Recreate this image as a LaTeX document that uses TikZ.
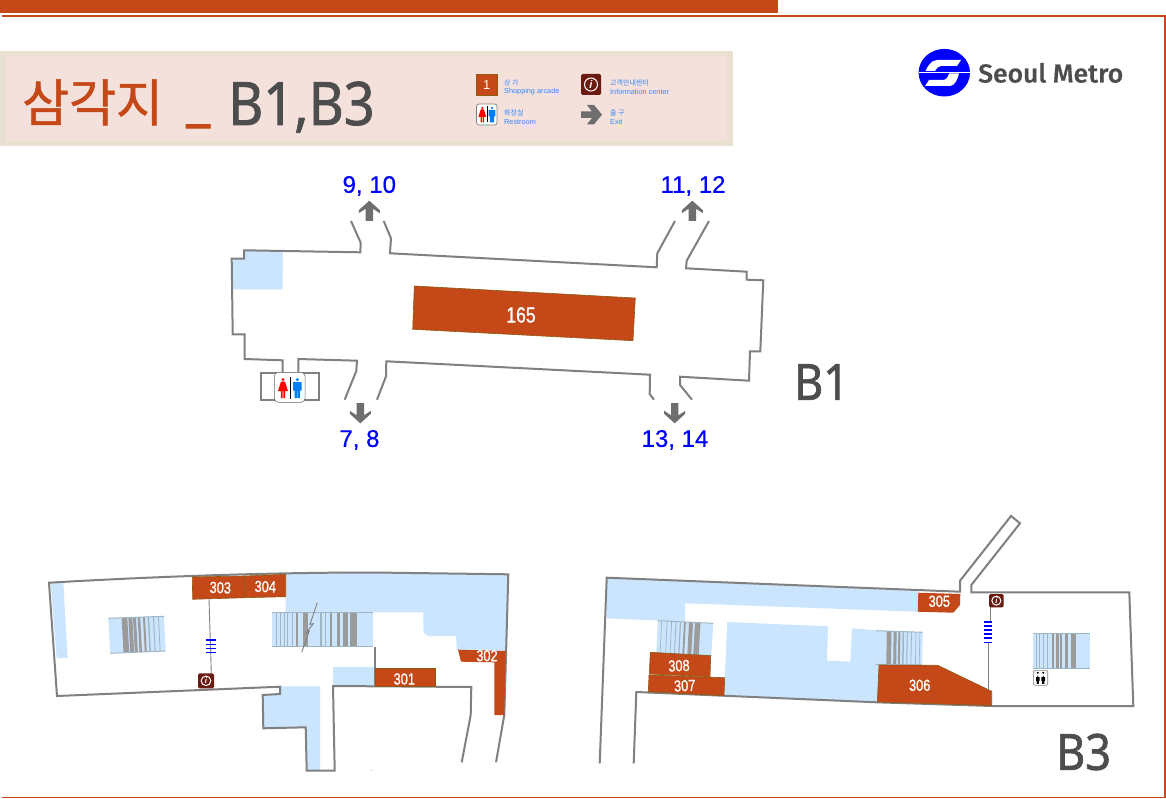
\documentclass[tikz,border=0pt]{standalone}
\usepackage{fontspec}
\usetikzlibrary{calc}
\setmainfont{Liberation Sans}
\newfontfamily\cjk{Noto Sans CJK KR}
\newfontfamily\cjkbig[FakeBold=1]{Noto Sans CJK KR}
\newfontfamily\din[FakeStretch=0.9,FakeBold=1.3]{Noto Sans}
\newfontfamily\cond[FakeStretch=0.8,FakeBold=0.8]{Liberation Sans}
\newfontfamily\exitfont[FakeBold=0.6]{Liberation Sans}
\newfontfamily\logofont[FakeStretch=1.02,FakeBold=0.5]{Fira Sans Medium}
\definecolor{shop}{RGB}{197,72,24}
\definecolor{shopedge}{RGB}{140,90,20}
\definecolor{wall}{RGB}{128,128,128}
\definecolor{pale}{RGB}{204,229,255}
\definecolor{stairline}{RGB}{160,182,195}
\definecolor{stairdark}{RGB}{155,155,155}
\definecolor{infofill}{RGB}{107,26,16}
\definecolor{arrowgrey}{RGB}{110,110,110}
\definecolor{inkgrey}{RGB}{77,77,77}
\definecolor{legendblue}{RGB}{51,136,255}
\definecolor{exitblue}{RGB}{0,0,255}
\definecolor{panelout}{RGB}{232,224,208}
\definecolor{panelin}{RGB}{245,225,219}
\definecolor{manblue}{RGB}{0,125,240}
\tikzset{
  wallline/.style={draw=wall,line width=2pt,line join=miter},
  shopbox/.style={fill=shop,draw=shopedge,line width=.6pt},
  paleb/.style={fill=pale},
  shoplab/.style={text=white,font=\cond\fontsize{16}{16}\selectfont,inner sep=0pt},
  exitlab/.style={text=exitblue,font=\exitfont\fontsize{24}{24}\selectfont,inner sep=0pt},
  bigfloor/.style={text=inkgrey,font=\din\fontsize{50}{50}\selectfont,inner sep=0pt},
  legkr/.style={text=legendblue,font=\cjk\fontsize{7}{7}\selectfont,inner sep=0pt,anchor=west},
  legen/.style={text=legendblue,font=\fontsize{7.3}{7.3}\selectfont,inner sep=0pt,anchor=west},
  feeder/.style={draw=wall,line width=.9pt},
  esc/.style={draw=blue,line width=1.5pt},
}
\newcommand\exitarrow[3]{%
  \fill[arrowgrey,shift={(#1,#2)},yscale=#3] (0,0)--(10.5,9.5)--(10.5,12.5)--(3.7,8)--(3.7,20.3)--(-3.7,20.3)--(-3.7,8)--(-10.5,12.5)--(-10.5,9.5)--cycle;}
\newcommand\womanfig[4]{%
  \begin{scope}[shift={(#1,#2)},scale=#4]
  \fill[#3] (0,1.6) circle[radius=1.6];
  \fill[#3] (-2,3.5)--(2,3.5)--(5,13)--(2.2,13)--(2.2,20)--(.4,20)--(.4,13)--(-.4,13)--(-.4,20)--(-2.2,20)--(-2.2,13)--(-5,13)--cycle;
  \end{scope}}
\newcommand\manfig[4]{%
  \begin{scope}[shift={(#1,#2)},scale=#4]
  \fill[#3] (0,1.6) circle[radius=1.6];
  \fill[#3] (-4.3,4)--(4.3,4)--(4.3,12.5)--(2.8,12.5)--(2.8,20)--(.3,20)--(.3,13)--(-.3,13)--(-.3,20)--(-2.8,20)--(-2.8,12.5)--(-4.3,12.5)--cycle;
  \end{scope}}
% name, x1,y1,x2,y2, circle radius, font size
\newcommand\infoicon[7]{%
  \fill[infofill,rounded corners=1.5pt] (#2,#3) rectangle (#4,#5);
  \draw[white,line width=1pt] ({(#2+#4)/2},{(#3+#5)/2}) circle[radius=#6];
  \node[text=white,inner sep=0pt,font=\bfseries\itshape\fontsize{#7}{#7}\selectfont] (#1) at ({(#2+#4)/2},{(#3+#5)/2}) {i};}
% A,B,C,D corners (TL,TR,BR,BL), list of f/w
\newcommand\stairs[5]{%
  \fill[pale] #1--#2--#3--#4--cycle;
  \coordinate (sA) at #1; \coordinate (sB) at #2; \coordinate (sC) at #3; \coordinate (sD) at #4;
  \foreach \f/\w in {#5} {
    \pgfmathsetmacro{\cc}{\w>1.6?1:0}
    \ifdim\cc pt>0.5pt
      \draw[stairdark,line width=\w pt] ($(sA)!\f!(sB)$)--($(sD)!\f!(sC)$);
    \else
      \draw[stairline,line width=\w pt] ($(sA)!\f!(sB)$)--($(sD)!\f!(sC)$);
    \fi
  }
  \draw[stairline,line width=1pt] (sA)--(sB) (sD)--(sC);
}
\begin{document}
\begin{tikzpicture}[x=1pt,y=-1pt]
\useasboundingbox (0,0) rectangle (1166,799);
\fill[white] (0,0) rectangle (1166,799);
% frame
\fill[shop] (0,0) rectangle (778,13);
\draw[shop,line width=1.8pt] (2,15.8)--(1165,15.8)--(1165,797.5)--(2,797.5);
% title panel
\fill[panelout] (0,51) rectangle (733,146);
\fill[panelin] (6,56.5) rectangle (727,141);
\node[anchor=base west,inner sep=0pt,text=shop,font=\cjkbig\fontsize{51}{51}\selectfont] (ttl) at (22,121.5) {삼각지};
\node[anchor=base west,inner sep=0pt,text=shop,font=\din\fontsize{60}{60}\selectfont] (und) at (186,119) {\_};
\node[anchor=base west,inner sep=0pt,text=inkgrey,font=\din\fontsize{60}{60}\selectfont] (ttb) at (228,125) {B1,B3};
% legend
\fill[shop,draw=shopedge,line width=.8pt] (476.5,74.5) rectangle (497,95);
\node[text=white,inner sep=0pt,font=\fontsize{13}{13}\selectfont] (lg1) at (486.7,84.7) {1};
\node[legkr] (lk1) at (504,83) {상 가};
\node[legen] (le1) at (504,92) {Shopping arcade};
\infoicon{lgi}{581}{74}{601}{95}{6.5}{11}
\node[legkr] (lk2) at (610,83) {고객안내센터};
\node[legen] (le2) at (610,92) {Information center};
\draw[wall,fill=white,rounded corners=2.5pt,line width=.7pt] (476.5,104)rectangle(497,125);
\womanfig{482.3}{106.7}{red}{.78}
\manfig{492}{106.7}{manblue}{.78}
\draw[black,line width=.9pt] (487,106.5)--(487,122.5);
\node[legkr] (lk3) at (504,113) {화장실};
\node[legen] (le3) at (504,122) {Restroom};
\fill[arrowgrey] (581,111.5)--(592,111.5)--(587,105)--(594,105)--(602,114.7)--(594,124.3)--(587,124.3)--(592,118)--(581,118)--cycle;
\node[legkr] (lk4) at (610,113) {출 구};
\node[legen] (le4) at (610,122) {Exit};
% logo
\fill[blue] (944.3,72.7) ellipse[x radius=25.7,y radius=23.8];
\fill[white] (961,60)--(937,60) .. controls (930,60.5) and (927,68) .. (925.5,71)--(935,71) .. controls (936,68) and (939,66) .. (941,66)--(957,66)--cycle;
\fill[white] (925,86)--(950,86) .. controls (955,86) and (958,78) .. (959,73.5)--(949,73.5) .. controls (948,77) and (946,80) .. (943,80)--(929,80)--cycle;
\draw[white,line width=.9pt] (918.5,72.3)--(970,72.3);
\node[anchor=base west,inner sep=0pt,text=inkgrey,font=\logofont\fontsize{26}{26}\selectfont] (logo) at (978,82.5) {Seoul Metro};
% ---------- B1
\fill[paleb] (244,251)--(283,251)--(282.5,289.5)--(233,289.5)--(233,259)--(244,259)--cycle;
\draw[wallline] (351,221)--(360.7,242.7)--(360.3,252.3)--(244,250.3)--(244,258.7)--(231.7,258.7)--(232.7,334.3)--(244.7,334.3)--(244.7,359)--(282.7,360.3)--(282.7,372.3);
\draw[wallline] (298.3,372.3)--(298.3,359)--(357,360.7)--(356.3,371)--(344.7,399.7);
\draw[wallline] (377,399.7)--(386,376.3)--(386.3,361.3)--(650,374.7)--(649.7,394)--(654,399.7);
\draw[wallline] (692,399.7)--(680,385)--(680,376.7)--(749,380.7)--(750,351.3)--(760.3,351.3)--(763.3,280.3)--(746.7,279.7)--(746.7,271.7)--(686,268.3)--(686.7,260.7)--(709,221);
\draw[wallline] (675,221)--(657.3,253.3)--(656.7,267.3)--(390,253.3)--(391,238.3)--(383.7,221);
% restroom
\draw[wallline] (261.3,372.5) rectangle (319,400);
\draw[draw=black!60,fill=white,rounded corners=4pt,line width=.5pt] (274.3,372.3) rectangle (305,402.3);
\womanfig{283}{378}{red}{1}
\manfig{297.3}{378}{manblue}{1}
\draw[black,line width=1.2pt] (290.3,377)--(290.3,398.7);
% shop 165
\filldraw[shopbox] (414.3,286)--(635.3,298)--(633,340.7)--(412.7,329.3)--cycle;
\node[shoplab,font=\cond\fontsize{22}{22}\selectfont] (s165) at (521,315) {165};
% exits
\exitarrow{369.3}{200.7}{1}
\exitarrow{692.3}{200.7}{1}
\exitarrow{360.3}{423.3}{-1}
\exitarrow{674.7}{423.3}{-1}
\node[exitlab] (x1) at (369.3,186) {9, 10};
\node[exitlab] (x2) at (693,186) {11, 12};
\node[exitlab] (x3) at (359.5,440) {7, 8};
\node[exitlab] (x4) at (675,440) {13, 14};
\node[bigfloor] (fb1) at (821.5,382) {B1};
\node[bigfloor] (fb3) at (1083.5,752) {B3};
% ---------- B3 left
\fill[paleb] (50.7,583.3)--(63.3,582.5)--(67.7,658)--(56.7,658.3)--cycle;
\fill[paleb] (285.7,574)--(373,572.8)--(508,575)--(505.7,651)--(456.7,650)--(456,636)--(430,636) .. controls (426,636) and (423.3,633) .. (423.3,630)--(423.3,612.3)--(372.7,612.3)--(372.7,646.3)--(272.3,646)--(272.3,612)--(285.7,612)--cycle;
\fill[paleb] (332.7,667)--(375,667)--(375,686)--(332.7,686)--cycle;
\fill[paleb] (280.7,686.3)--(320,686.3)--(320,770)--(307.7,770)--(305.7,727.3)--(263.3,728)--(263,695)--(280.7,694)--cycle;
\stairs{(108.3,618.3)}{(164,616.3)}{(165.7,651)}{(110.3,653.3)}{.29/5.7,.395/4,.47/3,.55/2.5,.64/2,.72/1.5,.81/1,.9/.8}
\stairs{(272.3,612)}{(372.7,612)}{(372.7,646)}{(272.3,646)}{.036/.7,.076/.7,.116/.8,.156/1,.2/1.5,.243/2,.326/5,.485/1.5,.53/1.5,.585/2,.658/3,.73/4.5,.807/6.5}
\draw[draw=wall,line width=.9pt] (317.3,602.7)--(310,624.3)--(313.3,623.7)--(305.7,633.3)--(309.3,631)--(301.7,652.3);
\draw[wallline] (461.7,762.3)--(470.7,715)--(471.3,687)--(333,686)--(334.7,770.7)--(306.7,770.7)--(305.7,727.3)--(263.3,728.3)--(262.7,695)--(280,694)--(280,686.7)--(57,696)--(49,582.7) .. controls (130,578) and (250,572.5) .. (373,572.5)--(508.3,574.3)--(504.3,715)--(496,762.3);
\draw[wallline] (374.7,646.7)--(374.7,686);
\filldraw[shopbox] (375.7,668.3)--(435,668.3)--(435,686.5)--(375.7,686.5)--cycle;
\node[shoplab] (s301) at (404.3,679) {301};
\filldraw[shopbox,draw=none] (458,649.7)--(505.7,651)--(504.3,715)--(494.3,715)--(494.3,662.3)--(461,661.7)--cycle;
\node[shoplab] (s302) at (487,655.7) {302};
\filldraw[shopbox] (192.3,577)--(244.3,576)--(245,597.7)--(192.7,599.3)--cycle;
\filldraw[shopbox] (244.5,576)--(285.7,574.3)--(285.7,596.7)--(245,597.7)--cycle;
\node[shoplab,rotate=-2] (s303) at (220.3,587.7) {303};
\node[shoplab,rotate=-2] (s304) at (265.3,586.7) {304};
\draw[feeder] (209,599.3)--(211.3,673.3);
\draw[esc] (206,640)--(215.7,640) (206,644.3)--(215.7,644.3) (206,648.3)--(215.7,648.3) (206,652.3)--(215.7,652.3);
\infoicon{i1}{198}{673.3}{214}{688.3}{4.8}{8}
% ---------- B3 right
\fill[paleb] (607,578)--(918.3,591)--(918,611.7)--(685,603.3)--(685,621.5)--(657.7,620.5)--(606.7,618.3)--cycle;
\fill[paleb] (727.3,622)--(828,626.3)--(827,660.7)--(850.3,661.7)--(852,628.3)--(876,630.3)--(876,664.3)--(879,665)--(877.3,702.3)--(724,695.7)--(724.7,677.7)--cycle;
\stairs{(657.7,620.7)}{(713.3,623.3)}{(711.3,655.7)}{(656.3,653.3)}{.07/.7,.17/.7,.25/.8,.33/.9,.41/1.2,.49/1.8,.6/4,.72/5.5}
\stairs{(876,630.7)}{(922.7,632.3)}{(922,665)}{(875.7,664.3)}{.28/4.7,.41/3,.5/2,.585/1.5,.67/1,.76/.8,.857/.7,.94/.7}
\stairs{(1033,633.3)}{(1089.7,633.3)}{(1089.7,668)}{(1033,668)}{.05/.7,.11/.7,.18/.8,.26/1,.35/2,.43/3,.5/2,.59/3,.72/5.3}
\draw[wallline] (599.7,763.3)--(606.7,577.7)--(960,591.7)--(960,580.7)--(1011,516)--(1020,523.3)--(971.3,585)--(971.3,592.3)--(1129.3,592.3)--(1133.3,706)--(991.7,706)--(876.7,702.3)--(636.3,692)--(633.7,763.3);
\filldraw[shopbox,draw=none] (918.3,592.7)--(960.3,594)--(960,605)--(953.3,612.7)--(917.7,611.7)--cycle;
\node[shoplab] (s305) at (939.3,601.3) {305};
\filldraw[shopbox] (879,665)--(937.7,665.3)--(991.7,691.3)--(991.7,705.5)--(877.3,702)--cycle;
\node[shoplab] (s306) at (919.7,685.3) {306};
\filldraw[shopbox] (650.3,652.3)--(710.7,655.7)--(710,676.7)--(649.3,674)--cycle;
\filldraw[shopbox] (649,675)--(724.7,677.7)--(724,695.7)--(648.3,691.7)--cycle;
\node[shoplab,rotate=2] (s308) at (679,665.7) {308};
\node[shoplab,rotate=2] (s307) at (684.7,685.7) {307};
\draw[feeder] (990,607.3)--(990,621) (988.3,643.3)--(988.3,690);
\foreach \yy in {622,626,630,634,638,642.3} \draw[esc] (984.3,\yy)--(992.3,\yy);
\infoicon{i2}{989}{594}{1003.7}{607.3}{4.5}{8}
% elevator icon
\draw[wall,fill=white,rounded corners=2pt,line width=.6pt] (1033.3,670.3) rectangle (1047.7,685.3);
\fill[black] (1037.8,672.8) circle[radius=1.1] (1043.2,672.8) circle[radius=1.1];
\manfig{1037.8}{675.5}{black}{.42}
\manfig{1043.2}{675.5}{black}{.42}
\fill[gray!60] (370.5,770.3) rectangle (371.5,771.3);
\end{tikzpicture}
\end{document}
